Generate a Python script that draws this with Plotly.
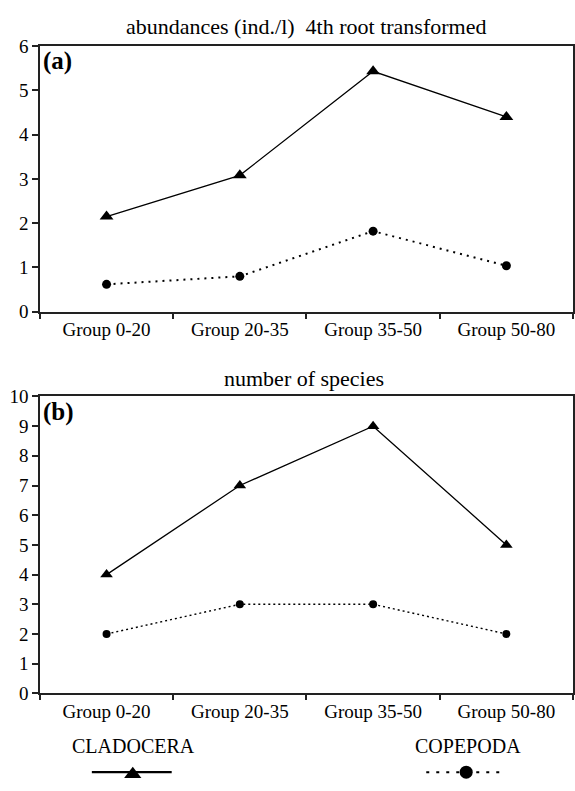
import plotly.graph_objects as go

categories = ["Group 0-20", "Group 20-35", "Group 35-50", "Group 50-80"]
clad_abund = [2.15, 3.08, 5.43, 4.40]
cope_abund = [0.62, 0.80, 1.82, 1.04]
clad_species = [4, 7, 9, 5]
cope_species = [2, 3, 3, 2]
yticks_a = [0, 1, 2, 3, 4, 5, 6]
yticks_b = list(range(0, 11))

W, H = 575, 791
FONT = "Liberation Serif, Times New Roman, serif"
AX = "#222222"

def ydom(top, bottom):
    return [1 - bottom / H, 1 - top / H]

fig = go.Figure()

# panel (a)
fig.add_trace(go.Scatter(x=categories, y=clad_abund, mode="lines+markers", xaxis="x", yaxis="y",
                         line=dict(color="black", width=1.3),
                         marker=dict(symbol="triangle-up", size=12, color="black"), showlegend=False))
fig.add_trace(go.Scatter(x=categories, y=cope_abund, mode="lines+markers", xaxis="x", yaxis="y",
                         line=dict(color="black", width=2, dash="2px,5px"),
                         marker=dict(symbol="circle", size=9, color="black"), showlegend=False))
# panel (b)
fig.add_trace(go.Scatter(x=categories, y=clad_species, mode="lines+markers", xaxis="x2", yaxis="y2",
                         line=dict(color="black", width=1.3),
                         marker=dict(symbol="triangle-up", size=11, color="black"), showlegend=False))
fig.add_trace(go.Scatter(x=categories, y=cope_species, mode="lines+markers", xaxis="x2", yaxis="y2",
                         line=dict(color="black", width=1.4, dash="2px,3px"),
                         marker=dict(symbol="circle", size=8, color="black"), showlegend=False))

# legend samples on a hidden pixel-space axis
fig.add_trace(go.Scatter(x=[92, 172], y=[783, 783], mode="lines", xaxis="x3", yaxis="y3",
                         line=dict(color="black", width=2.2), showlegend=False, hoverinfo="skip"))
fig.add_trace(go.Scatter(x=[133], y=[785], mode="markers", xaxis="x3", yaxis="y3",
                         marker=dict(symbol="triangle-up", size=15, color="black"), showlegend=False, hoverinfo="skip"))
fig.add_trace(go.Scatter(x=[427, 503], y=[783, 783], mode="lines", xaxis="x3", yaxis="y3",
                         line=dict(color="black", width=2, dash="3px,7px"), showlegend=False, hoverinfo="skip"))
fig.add_trace(go.Scatter(x=[467], y=[783], mode="markers", xaxis="x3", yaxis="y3",
                         marker=dict(symbol="circle", size=13, color="black"), showlegend=False, hoverinfo="skip"))

xcommon = dict(type="category", range=[-0.5, 3.5], showline=True, linecolor=AX, linewidth=1.5,
               mirror=True, ticks="outside", tickson="boundaries", ticklen=5, tickcolor=AX, tickwidth=1.5,
               tickfont=dict(family=FONT, size=19, color="black"), showgrid=False, zeroline=False,
               domain=[40 / W, 574 / W])
ycommon = dict(showline=True, linecolor=AX, linewidth=1.5, mirror=True, ticks="outside",
               ticklen=6, tickcolor=AX, tickwidth=1.5, tickfont=dict(family=FONT, size=19, color="black"),
               showgrid=False, zeroline=False)

fig.update_layout(
    width=W, height=H, margin=dict(l=0, r=0, t=0, b=0),
    font=dict(family=FONT, color="black"),
    paper_bgcolor="white", plot_bgcolor="rgba(0,0,0,0)",
    xaxis=dict(**xcommon, anchor="y"),
    yaxis=dict(**ycommon, range=[0, 6], tickvals=yticks_a, domain=ydom(37, 310), anchor="x"),
    xaxis2=dict(**xcommon, anchor="y2"),
    yaxis2=dict(**ycommon, range=[0, 10], tickvals=yticks_b, domain=ydom(397, 702), anchor="x2"),
    xaxis3=dict(range=[0, W], domain=[0, 1], visible=False, anchor="y3"),
    yaxis3=dict(range=[H, 0], domain=[0, 1], visible=False, anchor="x3"),
    annotations=[
        dict(text="abundances (ind./l)  4th root transformed", x=307 / W, y=1 - 17 / H, xref="paper", yref="paper",
             showarrow=False, font=dict(family=FONT, size=22, color="black"), xanchor="center", yanchor="middle"),
        dict(text="number of species", x=305 / W, y=1 - 379 / H, xref="paper", yref="paper",
             showarrow=False, font=dict(family=FONT, size=22, color="black"), xanchor="center", yanchor="middle"),
        dict(text="<b>(a)</b>", x=41 / W, y=1 - 52 / H, xref="paper", yref="paper",
             showarrow=False, font=dict(family=FONT, size=25, color="black"), xanchor="left", yanchor="middle"),
        dict(text="<b>(b)</b>", x=41 / W, y=1 - 413 / H, xref="paper", yref="paper",
             showarrow=False, font=dict(family=FONT, size=25, color="black"), xanchor="left", yanchor="middle"),
        dict(text="CLADOCERA", x=134 / W, y=1 - 756 / H, xref="paper", yref="paper",
             showarrow=False, font=dict(family=FONT, size=20, color="black"), xanchor="center", yanchor="middle"),
        dict(text="COPEPODA", x=469 / W, y=1 - 756 / H, xref="paper", yref="paper",
             showarrow=False, font=dict(family=FONT, size=20, color="black"), xanchor="center", yanchor="middle"),
    ],
)

fig.write_html("out.html")
